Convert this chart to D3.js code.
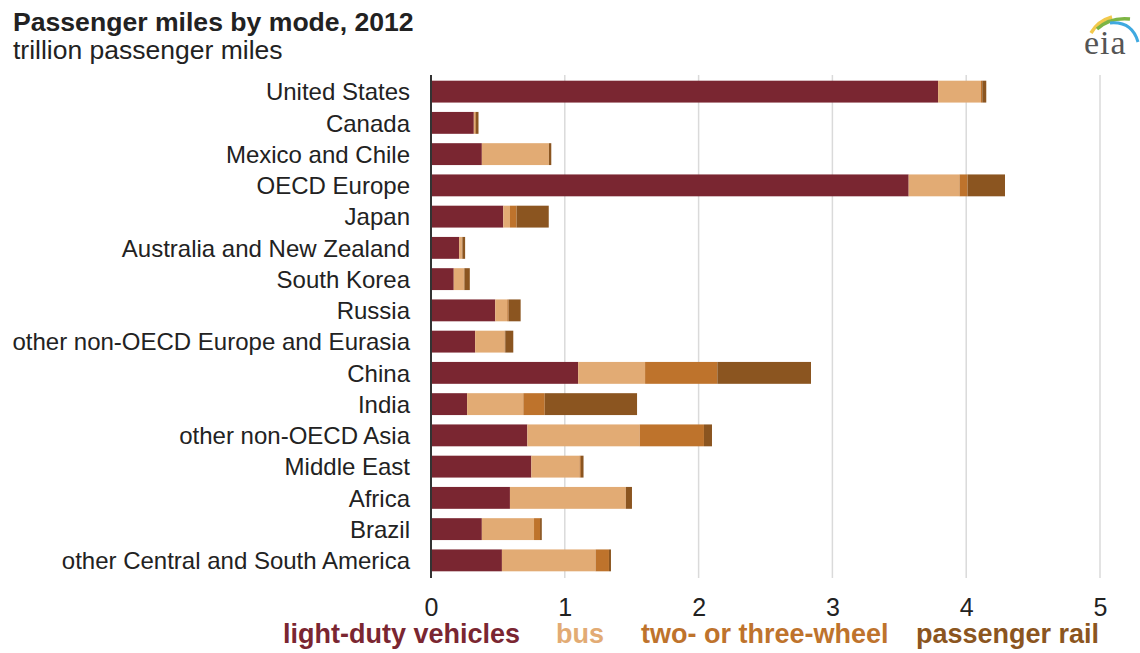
<!DOCTYPE html>
<html>
<head>
<meta charset="utf-8">
<script src="https://cdn.jsdelivr.net/npm/d3@7"></script>
<style>
  html, body { margin: 0; padding: 0; background: #fff; }
  svg { display: block; font-family: "Liberation Sans", Arial, sans-serif; }
</style>
</head>
<body>
<svg id="chart" width="1140" height="653"></svg>
<script>
// ---- data (trillion passenger miles, 2012) ----
const categories = [
  "United States", "Canada", "Mexico and Chile", "OECD Europe", "Japan",
  "Australia and New Zealand", "South Korea", "Russia",
  "other non-OECD Europe and Eurasia", "China", "India", "other non-OECD Asia",
  "Middle East", "Africa", "Brazil", "other Central and South America"
];
const lightDuty = [3.79, 0.32, 0.38, 3.57, 0.54, 0.21, 0.17, 0.48, 0.33, 1.10, 0.27, 0.72, 0.75, 0.59, 0.38, 0.53];
const bus       = [0.32, 0.01, 0.50, 0.38, 0.05, 0.02, 0.075, 0.09, 0.22, 0.50, 0.42, 0.84, 0.36, 0.865, 0.39, 0.70];
const twoWheel  = [0.01, 0.005, 0.002, 0.06, 0.05, 0.005, 0.005, 0.01, 0.005, 0.54, 0.16, 0.48, 0.01, 0.002, 0.045, 0.10];
const rail      = [0.03, 0.02, 0.017, 0.28, 0.24, 0.02, 0.04, 0.09, 0.06, 0.70, 0.69, 0.06, 0.02, 0.045, 0.013, 0.015];
const seriesNames = ["light-duty vehicles", "bus", "two- or three-wheel", "passenger rail"];
const seriesColors = ["#7A2631", "#E2AB74", "#BE732C", "#8B5520"];
const xTicks = [0, 1, 2, 3, 4, 5];

const rows = categories.map((c, i) => ({
  cat: c, s0: lightDuty[i], s1: bus[i], s2: twoWheel[i], s3: rail[i]
}));
const keys = ["s0", "s1", "s2", "s3"];
const stacked = d3.stack().keys(keys)(rows);

const svg = d3.select("#chart");

const x = d3.scaleLinear().domain([0, 5]).range([431, 1100]);
const y = d3.scaleBand().domain(categories).range([76, 576]).paddingInner(0.3).paddingOuter(0.15);

// title
svg.append("text").attr("x", 13).attr("y", 31)
  .attr("font-size", 26.6).attr("font-weight", "bold").attr("fill", "#222")
  .text("Passenger miles by mode, 2012");
svg.append("text").attr("x", 13).attr("y", 59)
  .attr("font-size", 26.5).attr("fill", "#222")
  .text("trillion passenger miles");

// gridlines
svg.append("g").selectAll("line").data(xTicks.filter(d => d > 0)).join("line")
  .attr("x1", d => x(d)).attr("x2", d => x(d))
  .attr("y1", 75).attr("y2", 578)
  .attr("stroke", "#dadada").attr("stroke-width", 1.5);

// bars
svg.append("g").selectAll("g").data(stacked).join("g")
  .attr("fill", (d, i) => seriesColors[i])
  .selectAll("rect").data(d => d).join("rect")
  .attr("x", d => x(d[0]))
  .attr("width", d => Math.max(0, x(d[1]) - x(d[0])))
  .attr("y", d => y(d.data.cat))
  .attr("height", y.bandwidth());

// axis line
svg.append("line").attr("x1", 431).attr("x2", 431).attr("y1", 75).attr("y2", 578)
  .attr("stroke", "#333").attr("stroke-width", 2);

// category labels
svg.append("g").selectAll("text").data(categories).join("text")
  .attr("x", 410).attr("y", d => y(d) + y.bandwidth() / 2)
  .attr("dy", "0.36em").attr("text-anchor", "end")
  .attr("font-size", 24).attr("fill", "#222")
  .text(d => d);

// x tick labels
const xAxis = d3.axisBottom(x).tickValues(xTicks).tickSize(0).tickPadding(0).tickFormat(d3.format("d"));
const gx = svg.append("g").attr("transform", "translate(0,598)").call(xAxis);
gx.select(".domain").remove();
gx.selectAll("text").attr("font-size", 25).attr("fill", "#222")
  .attr("font-family", "'Liberation Sans', Arial, sans-serif").attr("dy", "0.71em");

// legend
const legendX = [283, 556, 641, 916];
svg.append("g").selectAll("text").data(seriesNames).join("text")
  .attr("x", (d, i) => legendX[i]).attr("y", 643)
  .attr("font-size", 27).attr("font-weight", "bold")
  .attr("fill", (d, i) => seriesColors[i])
  .text(d => d);

// eia logo
const logo = svg.append("g");
logo.append("path").attr("d", "M1091,33 Q1098,21 1112,17").attr("fill", "none")
  .attr("stroke", "#F2C94C").attr("stroke-width", 3.5);
logo.append("path").attr("d", "M1097,29 Q1110,17 1130,19").attr("fill", "none")
  .attr("stroke", "#7DB544").attr("stroke-width", 3.5);
logo.append("path").attr("d", "M1110,23 Q1132,21 1138,42").attr("fill", "none")
  .attr("stroke", "#3FA9E0").attr("stroke-width", 3);
logo.append("text").attr("x", 1084).attr("y", 54)
  .attr("font-family", "'Liberation Serif', 'DejaVu Serif', serif")
  .attr("font-size", 34).attr("letter-spacing", 1).attr("fill", "#555").text("eia");
</script>
</body>
</html>
